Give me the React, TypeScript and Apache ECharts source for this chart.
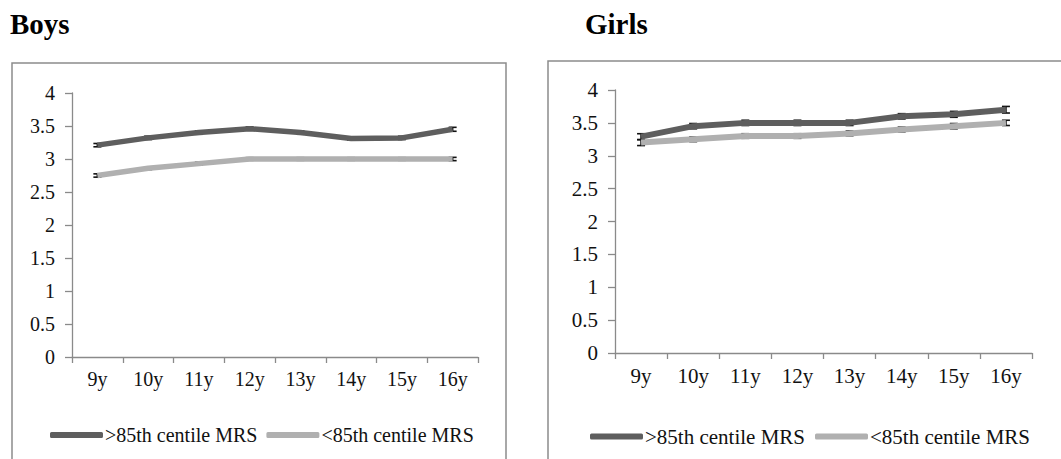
import React, { useEffect, useRef } from "react";
import * as echarts from "echarts";

const categories = ["9y", "10y", "11y", "12y", "13y", "14y", "15y", "16y"];
const seriesNames = [">85th centile MRS", "<85th centile MRS"];

const boysAbove = [3.21, 3.32, 3.4, 3.46, 3.4, 3.31, 3.32, 3.45];
const boysBelow = [2.75, 2.86, 2.93, 3.0, 3.0, 3.0, 3.0, 3.0];
const boysAboveErr = [0.025, 0.025, 0.025, 0.025, 0.025, 0.025, 0.025, 0.03];
const boysBelowErr = [0.025, 0.02, 0.02, 0.02, 0.02, 0.02, 0.02, 0.025];

const girlsAbove = [3.29, 3.45, 3.5, 3.5, 3.5, 3.6, 3.63, 3.7];
const girlsBelow = [3.2, 3.25, 3.3, 3.3, 3.34, 3.4, 3.45, 3.5];
const girlsAboveErr = [0.045, 0.04, 0.04, 0.04, 0.04, 0.04, 0.045, 0.05];
const girlsBelowErr = [0.045, 0.035, 0.035, 0.035, 0.035, 0.035, 0.04, 0.04];

const yTicks = { min: 0, max: 4, interval: 0.5 };

const DARK = "#5e5e5e";
const LIGHT = "#b0b0b0";
const AXIS = "#8a8a8a";
const FONT = "Liberation Serif";

function errData(vals: number[], errs: number[]) {
  return vals.map((v, i) => [i, v - errs[i], v + errs[i]]);
}

function errSeries(idx: number, vals: number[], errs: number[]) {
  return {
    type: "custom",
    xAxisIndex: idx,
    yAxisIndex: idx,
    z: 1,
    silent: true,
    data: errData(vals, errs),
    renderItem: (params: any, api: any) => {
      const x = api.value(0);
      const lo = api.coord([x, api.value(1)]);
      const hi = api.coord([x, api.value(2)]);
      const hw = 4;
      const style = { stroke: "#111", lineWidth: 1.6 };
      return {
        type: "group",
        children: [
          { type: "line", shape: { x1: lo[0], y1: lo[1], x2: hi[0], y2: hi[1] }, style },
          { type: "line", shape: { x1: lo[0] - hw, y1: lo[1], x2: lo[0] + hw, y2: lo[1] }, style },
          { type: "line", shape: { x1: hi[0] - hw, y1: hi[1], x2: hi[0] + hw, y2: hi[1] }, style },
        ],
      };
    },
  };
}

export default function App() {
  const ref = useRef<HTMLDivElement>(null);
  useEffect(() => {
    if (!ref.current) return;
    const chart = echarts.init(ref.current, null, { renderer: "svg" });
    const xAxisBase = (idx: number, fs: number) => ({
      type: "category",
      gridIndex: idx,
      data: categories,
      boundaryGap: true,
      axisLine: { show: true, lineStyle: { color: AXIS, width: 1.3 } },
      axisTick: { show: true, length: 6, inside: false, lineStyle: { color: AXIS, width: 1.3 } },
      axisLabel: { color: "#111", fontFamily: FONT, fontSize: fs, margin: 12 },
      splitLine: { show: false },
    });
    const yAxisBase = (idx: number, fs: number) => ({
      type: "value",
      gridIndex: idx,
      min: yTicks.min,
      max: yTicks.max,
      interval: yTicks.interval,
      axisLine: { show: true, lineStyle: { color: AXIS, width: 1.3 } },
      axisTick: { show: true, length: 7, lineStyle: { color: AXIS, width: 1.3 } },
      axisLabel: { color: "#111", fontFamily: FONT, fontSize: fs, margin: 17 },
      splitLine: { show: false },
    });
    const lineSeries = (idx: number, name: string, data: number[], color: string, w: number) => ({
      type: "line",
      name,
      xAxisIndex: idx,
      yAxisIndex: idx,
      data,
      symbol: "none",
      z: 3,
      color,
      lineStyle: { color, width: w, cap: "butt", join: "round" },
    });
    chart.setOption({
      animation: false,
      backgroundColor: "#ffffff",
      textStyle: { fontFamily: FONT },
      grid: [
        { left: 72, top: 93, width: 406, height: 264 },
        { left: 615, top: 90, width: 417, height: 263 },
      ],
      xAxis: [xAxisBase(0, 20), xAxisBase(1, 21)],
      yAxis: [yAxisBase(0, 20), yAxisBase(1, 21)],
      legend: [
        {
          left: 45,
          top: 420,
          itemWidth: 53,
          itemHeight: 6,
          itemGap: 9,
          icon: "roundRect",
          data: seriesNames,
          textStyle: { fontFamily: FONT, fontSize: 20, color: "#111", padding: [0, 0, 0, -3] },
          selectedMode: false,
        },
        {
          left: 585,
          top: 421,
          itemWidth: 53,
          itemHeight: 6,
          itemGap: 10,
          icon: "roundRect",
          data: seriesNames,
          textStyle: { fontFamily: FONT, fontSize: 21, color: "#111", padding: [0, 0, 0, -3] },
          selectedMode: false,
        },
      ],
      graphic: [
        {
          type: "rect",
          shape: { x: 12, y: 63, width: 494, height: 420 },
          style: { fill: "none", stroke: "#8c8c8c", lineWidth: 1.5 },
          silent: true,
          z: -1,
        },
        {
          type: "rect",
          shape: { x: 548, y: 61, width: 540, height: 420 },
          style: { fill: "none", stroke: "#8c8c8c", lineWidth: 1.5 },
          silent: true,
          z: -1,
        },
        {
          type: "text",
          left: 10,
          top: 9,
          style: { text: "Boys", fontFamily: FONT, fontSize: 29, fontWeight: "bold", fill: "#000" },
        },
        {
          type: "text",
          left: 585,
          top: 9,
          style: { text: "Girls", fontFamily: FONT, fontSize: 29, fontWeight: "bold", fill: "#000" },
        },
      ],
      series: [
        errSeries(0, boysAbove, boysAboveErr),
        errSeries(0, boysBelow, boysBelowErr),
        errSeries(1, girlsAbove, girlsAboveErr),
        errSeries(1, girlsBelow, girlsBelowErr),
        lineSeries(0, seriesNames[0], boysAbove, DARK, 5.5),
        lineSeries(0, seriesNames[1], boysBelow, LIGHT, 5.5),
        lineSeries(1, seriesNames[0], girlsAbove, DARK, 6),
        lineSeries(1, seriesNames[1], girlsBelow, LIGHT, 6),
      ],
    });
    return () => chart.dispose();
  }, []);
  return (
    <div
      ref={ref}
      style={{ position: "absolute", left: 0, top: 0, width: 1061, height: 459, background: "#fff" }}
    />
  );
}
